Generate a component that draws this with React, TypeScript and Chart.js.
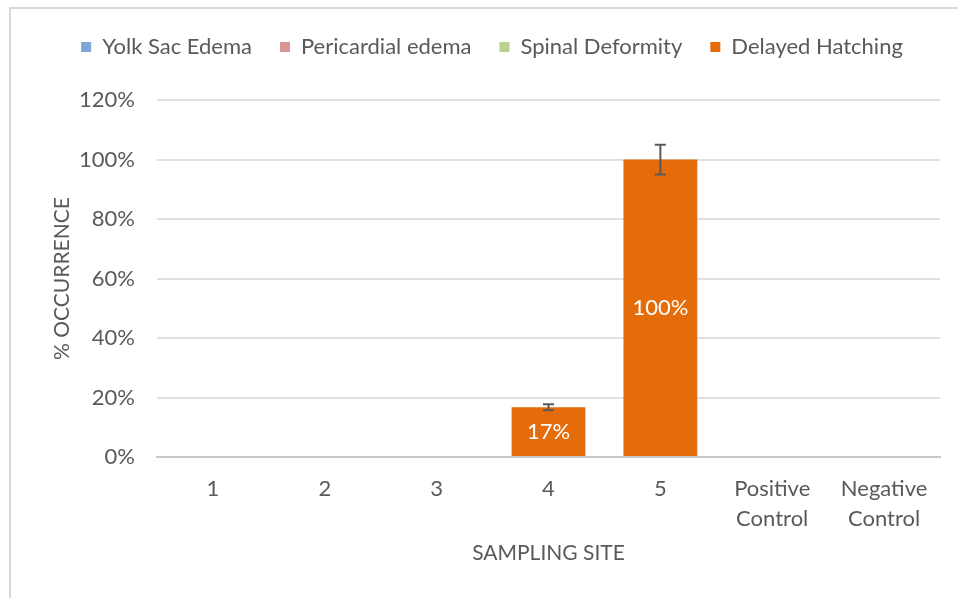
import React, { useEffect, useRef } from "react";
import { Chart, registerables } from "chart.js";

Chart.register(...registerables);

const categories: string[][] = [["1"], ["2"], ["3"], ["4"], ["5"], ["Positive", "Control"], ["Negative", "Control"]];
const seriesNames = ["Yolk Sac Edema", "Pericardial edema", "Spinal Deformity", "Delayed Hatching"];
const yolkSacEdema = [0, 0, 0, 0, 0, 0, 0];
const pericardialEdema = [0, 0, 0, 0, 0, 0, 0];
const spinalDeformity = [0, 0, 0, 0, 0, 0, 0];
const delayedHatching = [0, 0, 0, 0.167, 1.0, 0, 0];
const delayedHatchingErr = [0, 0, 0, 0.01, 0.05, 0, 0];
const seriesColors = ["#7ea6d6", "#d99694", "#b9d08f", "#e46c0a"];
const yMin = 0;
const yMax = 1.2;
const yStep = 0.2;

const FONT = "Lato, 'Open Sans', sans-serif";
const TEXT = "#595959";

const PLOT_LEFT = 157;
const PLOT_RIGHT = 940;
const PLOT_TOP = 100;
const PLOT_BOTTOM = 457;
const W = 958;
const H = 598;
const TOP_PAD = 8;
const LEGEND_SHIFT = 22;

const overlayPlugin = {
  id: "overlay",
  beforeInit(chart: any) {
    const legend = chart.legend;
    if (legend) {
      const origFit = legend.fit.bind(legend);
      legend.fit = function () {
        origFit();
        this.height = PLOT_TOP - TOP_PAD;
      };
    }
  },
  afterLayout(chart: any) {
    const legend = chart.legend;
    if (legend) {
      legend.left += LEGEND_SHIFT;
      legend.right += LEGEND_SHIFT;
    }
  },
  afterDatasetsDraw(chart: any) {
    const ctx = chart.ctx;
    const yScale = chart.scales.y;
    const idx = 3;
    const meta = chart.getDatasetMeta(idx);
    const values = chart.data.datasets[idx].data as number[];
    ctx.save();
    meta.data.forEach((bar: any, i: number) => {
      const v = values[i];
      const e = delayedHatchingErr[i];
      if (v > 0) {
        ctx.fillStyle = "#ffffff";
        ctx.font = `22px ${FONT}`;
        ctx.textAlign = "center";
        ctx.textBaseline = "middle";
        const yMid = (bar.y + bar.base) / 2;
        ctx.fillText(Math.round(v * 100) + "%", bar.x, yMid);
      }
      if (e > 0) {
        const yTop = yScale.getPixelForValue(v + e);
        const yBot = yScale.getPixelForValue(v - e);
        ctx.strokeStyle = "#595959";
        ctx.lineWidth = 2;
        ctx.beginPath();
        ctx.moveTo(bar.x, yTop);
        ctx.lineTo(bar.x, yBot);
        ctx.moveTo(bar.x - 5.5, yTop);
        ctx.lineTo(bar.x + 5.5, yTop);
        ctx.moveTo(bar.x - 5.5, yBot);
        ctx.lineTo(bar.x + 5.5, yBot);
        ctx.stroke();
      }
    });
    ctx.restore();
  },
};

export default function App() {
  const ref = useRef<HTMLCanvasElement>(null);
  useEffect(() => {
    if (!ref.current) return;
    const seriesData = [yolkSacEdema, pericardialEdema, spinalDeformity, delayedHatching];
    const chart = new Chart(ref.current, {
      type: "bar",
      data: {
        labels: categories,
        datasets: seriesNames.map((name, i) => ({
          label: name,
          data: seriesData[i],
          backgroundColor: seriesColors[i],
          borderWidth: 0,
          categoryPercentage: 0.66,
          barPercentage: 1,
        })),
      },
      options: {
        responsive: false,
        animation: false,
        maintainAspectRatio: false,
        layout: { padding: { left: 0, right: W - PLOT_RIGHT, top: TOP_PAD, bottom: 0 } },
        plugins: {
          legend: {
            position: "top",
            align: "center",
            labels: {
              boxWidth: 10,
              boxHeight: 10,
              padding: 28,
              color: TEXT,
              font: { family: FONT, size: 22 },
            },
          },
          tooltip: { enabled: false },
        },
        scales: {
          x: {
            stacked: true,
            grid: { display: false },
            border: { display: true, color: "#c8c8c8", width: 2 },
            ticks: {
              color: TEXT,
              font: { family: FONT, size: 22, lineHeight: 1.36 },
              padding: 9,
              maxRotation: 0,
              autoSkip: false,
            },
            title: {
              display: true,
              text: "SAMPLING SITE",
              color: TEXT,
              font: { family: FONT, size: 21 },
              padding: { top: 0, bottom: 32 },
            },
            afterFit(scale: any) {
              scale.height = H - PLOT_BOTTOM;
            },
          },
          y: {
            stacked: true,
            min: yMin,
            max: yMax,
            grid: { color: "#e0e0e0", lineWidth: 2, drawTicks: false },
            border: { display: false },
            ticks: {
              stepSize: yStep,
              color: TEXT,
              font: { family: FONT, size: 22 },
              padding: 22,
              callback: (v: any) => Math.round(Number(v) * 100) + "%",
            },
            title: {
              display: true,
              text: "% OCCURRENCE",
              color: TEXT,
              font: { family: FONT, size: 21 },
              padding: { top: 50, bottom: 0 },
            },
            afterFit(scale: any) {
              scale.width = PLOT_LEFT;
            },
          },
        },
      },
      plugins: [overlayPlugin],
    } as any);
    return () => chart.destroy();
  }, []);

  return (
    <div style={{ position: "fixed", left: 0, top: 0, width: W, height: H, background: "#fff" }}>
      <div
        style={{
          position: "absolute",
          left: 9,
          top: 7,
          width: W - 9,
          height: H - 7,
          borderTop: "2px solid #d9d9d9",
          borderLeft: "2px solid #d9d9d9",
          boxSizing: "border-box",
        }}
      />
      <canvas ref={ref} width={W} height={H} style={{ position: "absolute", left: 0, top: 0 }} />
    </div>
  );
}
